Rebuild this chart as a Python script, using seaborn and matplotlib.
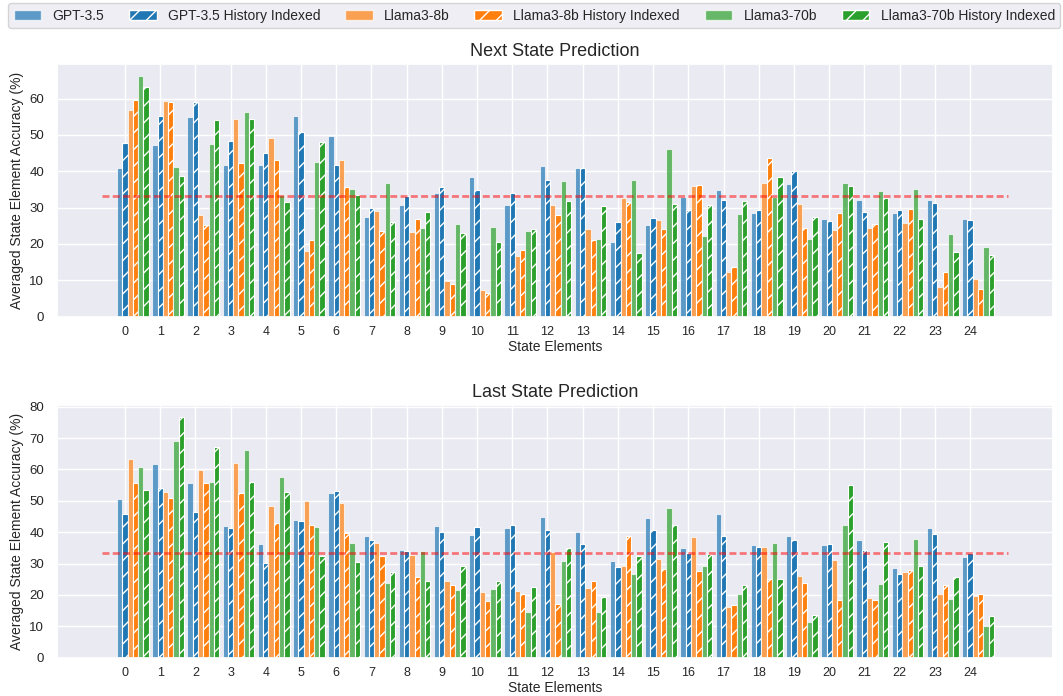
import matplotlib
matplotlib.use("Agg")
import matplotlib.pyplot as plt
import seaborn as sns
from matplotlib.patches import Patch

# State element indices
elements = list(range(25))

series_labels = [
    "GPT-3.5", "GPT-3.5 History Indexed",
    "Llama3-8b", "Llama3-8b History Indexed",
    "Llama3-70b", "Llama3-70b History Indexed",
]

# Next state prediction accuracy (%) per state element
next_gpt = [40.8, 47.3, 54.9, 41.8, 41.8, 55.1, 49.8, 27.3, 30.6, 34.1, 38.4, 30.8, 41.4,
            40.9, 20.6, 25.3, 33.0, 34.8, 28.6, 36.6, 26.9, 32.1, 28.6, 32.1, 26.8]
next_gpt_hist = [47.8, 55.2, 59.2, 48.3, 45.0, 50.8, 41.7, 29.8, 33.3, 35.6, 34.8, 34.1, 37.6,
                 40.8, 26.1, 27.2, 29.4, 32.2, 29.4, 40.1, 26.3, 28.8, 29.3, 31.2, 26.6]
next_l8 = [57.0, 59.4, 28.1, 54.3, 49.1, 18.0, 43.0, 29.0, 23.2, 9.9, 7.3, 16.6, 30.8,
           24.2, 32.7, 26.7, 36.0, 12.4, 36.8, 31.0, 23.8, 24.3, 25.7, 8.2, 10.3]
next_l8_hist = [59.7, 59.2, 25.1, 42.2, 43.1, 21.1, 35.6, 23.7, 26.9, 9.1, 6.6, 18.4, 27.9,
                21.0, 31.6, 24.0, 36.1, 13.7, 43.7, 24.5, 28.5, 25.5, 29.7, 12.4, 7.7]
next_l70 = [66.2, 41.2, 47.4, 56.2, 33.4, 42.5, 35.0, 36.7, 24.4, 25.6, 24.8, 23.6, 37.3,
            21.3, 37.6, 46.2, 22.2, 28.3, 33.0, 21.3, 36.7, 34.5, 35.1, 22.7, 19.1]
next_l70_hist = [63.2, 38.6, 54.1, 54.4, 31.6, 48.1, 33.4, 26.0, 28.8, 23.0, 20.5, 24.0, 31.8,
                 30.5, 17.4, 31.1, 30.6, 31.7, 38.3, 27.4, 36.0, 32.6, 26.8, 17.9, 17.0]

# Last state prediction accuracy (%) per state element
last_gpt = [50.5, 61.6, 55.8, 42.1, 36.1, 43.8, 52.6, 38.9, 34.4, 42.1, 39.2, 41.5, 44.7,
            40.2, 30.7, 44.6, 35.0, 45.7, 35.8, 38.8, 35.8, 37.4, 28.5, 41.4, 32.1]
last_gpt_hist = [45.9, 54.0, 46.6, 41.4, 30.1, 43.5, 53.1, 37.4, 33.9, 40.0, 41.8, 42.2, 40.8,
                 36.3, 29.0, 40.8, 33.5, 38.9, 35.4, 37.4, 36.1, 34.3, 26.6, 39.5, 33.5]
last_l8 = [63.3, 52.8, 59.7, 62.0, 48.3, 50.1, 49.2, 36.7, 32.6, 24.3, 20.8, 21.2, 33.7,
           22.2, 29.1, 31.6, 38.5, 16.2, 35.4, 26.2, 31.2, 19.0, 27.3, 20.2, 19.6]
last_l8_hist = [55.6, 51.0, 55.8, 52.6, 43.0, 42.2, 39.7, 32.5, 25.7, 23.3, 18.0, 20.3, 17.1,
                24.6, 38.7, 28.3, 27.6, 16.7, 25.1, 23.9, 18.3, 18.3, 28.0, 23.1, 20.3]
last_l70 = [60.7, 69.2, 56.1, 66.1, 57.7, 41.7, 36.7, 23.8, 33.9, 21.7, 21.8, 14.7, 30.8,
            14.5, 26.8, 47.7, 29.3, 20.4, 36.7, 11.3, 42.3, 23.4, 37.9, 18.7, 10.2]
last_l70_hist = [53.4, 76.7, 67.3, 56.0, 52.9, 32.5, 30.6, 27.4, 24.4, 29.2, 24.6, 22.6, 35.0,
                 19.5, 32.4, 42.3, 33.2, 23.1, 25.0, 13.5, 55.0, 37.0, 29.1, 25.7, 13.3]

chance_level = 100 / 3

sns.set_theme(style="darkgrid")
plt.rcParams["font.family"] = ["Liberation Sans", "DejaVu Sans"]
plt.rcParams["hatch.linewidth"] = 1.0

palette = sns.color_palette("tab10")
base_colors = [palette[0], palette[0], palette[1], palette[1], palette[2], palette[2]]
is_history = [False, True, False, True, False, True]

bar_width = 0.15


def draw_panel(ax, series, title):
    for i, (vals, color, hist) in enumerate(zip(series, base_colors, is_history)):
        positions = [e + (i - 1) * bar_width for e in elements]
        ax.bar(
            positions, vals, width=bar_width,
            color=color, alpha=1.0 if hist else 0.7,
            edgecolor="white", linewidth=0.8,
            hatch="//" if hist else None,
        )
    ax.hlines(chance_level, elements[0] - 0.65, elements[-1] + 1.07,
              colors="red", alpha=0.5, linewidth=2, linestyles=(0, (2.5, 1.2)))
    ax.set_xticks(elements)
    ax.set_xticklabels([str(e) for e in elements])
    ax.tick_params(axis="x", labelsize=9, pad=1)
    ax.tick_params(axis="y", labelsize=9.5, pad=3)
    ax.set_title(title, fontsize=13)
    ax.set_xlabel("State Elements", fontsize=10, labelpad=1)
    ax.set_ylabel("Averaged State Element Accuracy (%)", fontsize=10)


fig = plt.figure(figsize=(10.63, 6.96), dpi=100)
ax_next = fig.add_axes([0.0534, 0.545, 0.9372, 0.363])
ax_last = fig.add_axes([0.0534, 0.055, 0.9372, 0.363])

draw_panel(ax_next, [next_gpt, next_gpt_hist, next_l8, next_l8_hist, next_l70, next_l70_hist],
           "Next State Prediction")
draw_panel(ax_last, [last_gpt, last_gpt_hist, last_l8, last_l8_hist, last_l70, last_l70_hist],
           "Last State Prediction")

handles = [
    Patch(facecolor=c, alpha=1.0 if h else 0.7, edgecolor="white",
          hatch="//" if h else None, label=lab)
    for c, h, lab in zip(base_colors, is_history, series_labels)
]
fig.legend(handles=handles, loc="upper left", ncol=6, mode="expand",
           bbox_to_anchor=(0.0075, 0.9957, 0.99, 0), fontsize=10,
           frameon=True, borderaxespad=0)

fig.savefig("out.png", dpi=100)
